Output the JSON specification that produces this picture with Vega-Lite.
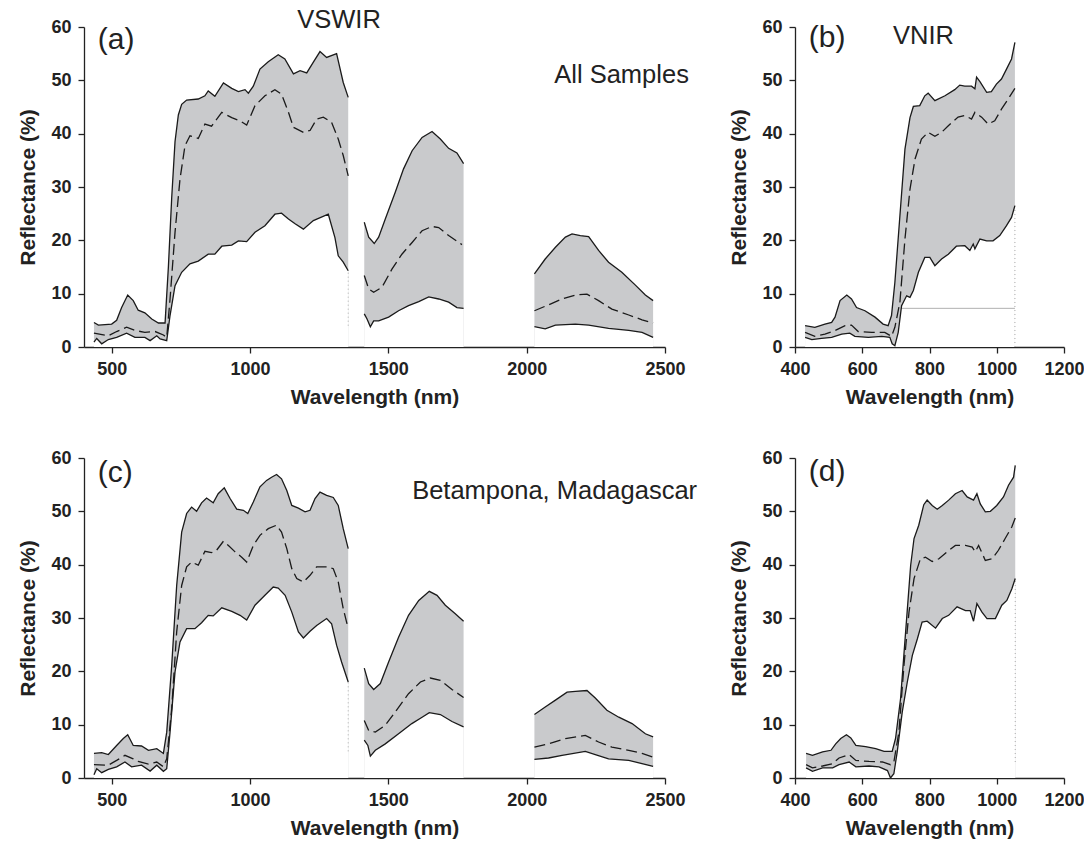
{
  "$schema": "https://vega.github.io/schema/vega-lite/v6.json",
  "padding": {"left": 17, "top": 8, "right": 5, "bottom": 5},
  "background": "white",
  "config": {
    "view": {"stroke": null},
    "font": "Liberation Sans",
    "axis": {
      "grid": false,
      "zindex": 1,
      "domainColor": "#222",
      "domainWidth": 1.3,
      "tickColor": "#222",
      "tickWidth": 1.3,
      "tickSize": 6,
      "labelFont": "Liberation Sans",
      "labelFontWeight": "bold",
      "labelFontSize": 18,
      "labelColor": "#222",
      "labelPadding": 7,
      "titleFont": "Liberation Sans",
      "titleFontWeight": "bold",
      "titleFontSize": 21,
      "titleColor": "#222",
      "format": "d"
    },
    "axisX": {"titlePadding": 8, "labelFlush": false},
    "axisY": {"titlePadding": 12}
  },
  "datasets": {
    "series": [
      {"p":"a","s":1,"c":"hi","x":436,"y":4.6},{"p":"a","s":1,"c":"hi","x":452,"y":4.1},{"p":"a","s":1,"c":"hi","x":500,"y":4.3},{"p":"a","s":1,"c":"hi","x":518,"y":5},{"p":"a","s":1,"c":"hi","x":536,"y":7.4},{"p":"a","s":1,"c":"hi","x":558,"y":9.75},{"p":"a","s":1,"c":"hi","x":578,"y":8.7},{"p":"a","s":1,"c":"hi","x":596,"y":6.9},{"p":"a","s":1,"c":"hi","x":620,"y":6.4},{"p":"a","s":1,"c":"hi","x":645,"y":5.25},{"p":"a","s":1,"c":"hi","x":669,"y":4.5},{"p":"a","s":1,"c":"hi","x":693,"y":4.5},{"p":"a","s":1,"c":"hi","x":705,"y":15},{"p":"a","s":1,"c":"hi","x":717,"y":28},{"p":"a","s":1,"c":"hi","x":729,"y":38.5},{"p":"a","s":1,"c":"hi","x":741,"y":43.5},{"p":"a","s":1,"c":"hi","x":753,"y":45.5},{"p":"a","s":1,"c":"hi","x":771,"y":46.3},{"p":"a","s":1,"c":"hi","x":813,"y":46.5},{"p":"a","s":1,"c":"hi","x":837,"y":47.1},{"p":"a","s":1,"c":"hi","x":849,"y":48},{"p":"a","s":1,"c":"hi","x":873,"y":47},{"p":"a","s":1,"c":"hi","x":904,"y":49.5},{"p":"a","s":1,"c":"hi","x":934,"y":48.5},{"p":"a","s":1,"c":"hi","x":958,"y":47.9},{"p":"a","s":1,"c":"hi","x":982,"y":48.25},{"p":"a","s":1,"c":"hi","x":994,"y":47.6},{"p":"a","s":1,"c":"hi","x":1012,"y":48.9},{"p":"a","s":1,"c":"hi","x":1036,"y":52.1},{"p":"a","s":1,"c":"hi","x":1066,"y":53.5},{"p":"a","s":1,"c":"hi","x":1102,"y":54.8},{"p":"a","s":1,"c":"hi","x":1126,"y":54},{"p":"a","s":1,"c":"hi","x":1157,"y":51.2},{"p":"a","s":1,"c":"hi","x":1181,"y":51.8},{"p":"a","s":1,"c":"hi","x":1205,"y":51.4},{"p":"a","s":1,"c":"hi","x":1229,"y":53.4},{"p":"a","s":1,"c":"hi","x":1253,"y":55.4},{"p":"a","s":1,"c":"hi","x":1277,"y":54.3},{"p":"a","s":1,"c":"hi","x":1313,"y":55},{"p":"a","s":1,"c":"hi","x":1337,"y":49.6},{"p":"a","s":1,"c":"hi","x":1355,"y":46.8},
      {"p":"a","s":1,"c":"mean","x":436,"y":2.6},{"p":"a","s":1,"c":"mean","x":488,"y":2.1},{"p":"a","s":1,"c":"mean","x":518,"y":2.9},{"p":"a","s":1,"c":"mean","x":554,"y":3.7},{"p":"a","s":1,"c":"mean","x":584,"y":3.1},{"p":"a","s":1,"c":"mean","x":620,"y":2.75},{"p":"a","s":1,"c":"mean","x":657,"y":2.9},{"p":"a","s":1,"c":"mean","x":687,"y":2.25},{"p":"a","s":1,"c":"mean","x":699,"y":1.8},{"p":"a","s":1,"c":"mean","x":711,"y":9},{"p":"a","s":1,"c":"mean","x":729,"y":21.5},{"p":"a","s":1,"c":"mean","x":747,"y":31.5},{"p":"a","s":1,"c":"mean","x":765,"y":37.75},{"p":"a","s":1,"c":"mean","x":783,"y":39.6},{"p":"a","s":1,"c":"mean","x":813,"y":39.1},{"p":"a","s":1,"c":"mean","x":837,"y":41.8},{"p":"a","s":1,"c":"mean","x":861,"y":41.4},{"p":"a","s":1,"c":"mean","x":898,"y":44},{"p":"a","s":1,"c":"mean","x":934,"y":43},{"p":"a","s":1,"c":"mean","x":964,"y":42.4},{"p":"a","s":1,"c":"mean","x":988,"y":41.6},{"p":"a","s":1,"c":"mean","x":1018,"y":45.25},{"p":"a","s":1,"c":"mean","x":1054,"y":47.1},{"p":"a","s":1,"c":"mean","x":1090,"y":48.25},{"p":"a","s":1,"c":"mean","x":1114,"y":47.4},{"p":"a","s":1,"c":"mean","x":1139,"y":44},{"p":"a","s":1,"c":"mean","x":1157,"y":41.2},{"p":"a","s":1,"c":"mean","x":1193,"y":40.25},{"p":"a","s":1,"c":"mean","x":1217,"y":40.6},{"p":"a","s":1,"c":"mean","x":1241,"y":42.75},{"p":"a","s":1,"c":"mean","x":1265,"y":43.1},{"p":"a","s":1,"c":"mean","x":1295,"y":42.1},{"p":"a","s":1,"c":"mean","x":1319,"y":39},{"p":"a","s":1,"c":"mean","x":1337,"y":35.9},{"p":"a","s":1,"c":"mean","x":1355,"y":32.1},
      {"p":"a","s":1,"c":"lo","x":436,"y":0.9},{"p":"a","s":1,"c":"lo","x":446,"y":1.6},{"p":"a","s":1,"c":"lo","x":464,"y":0.6},{"p":"a","s":1,"c":"lo","x":488,"y":1.4},{"p":"a","s":1,"c":"lo","x":518,"y":1.8},{"p":"a","s":1,"c":"lo","x":554,"y":2.6},{"p":"a","s":1,"c":"lo","x":584,"y":1.8},{"p":"a","s":1,"c":"lo","x":620,"y":1.8},{"p":"a","s":1,"c":"lo","x":639,"y":1.2},{"p":"a","s":1,"c":"lo","x":663,"y":2.1},{"p":"a","s":1,"c":"lo","x":675,"y":1.5},{"p":"a","s":1,"c":"lo","x":699,"y":1.2},{"p":"a","s":1,"c":"lo","x":711,"y":5.9},{"p":"a","s":1,"c":"lo","x":729,"y":11.5},{"p":"a","s":1,"c":"lo","x":753,"y":14},{"p":"a","s":1,"c":"lo","x":783,"y":15.6},{"p":"a","s":1,"c":"lo","x":813,"y":16.1},{"p":"a","s":1,"c":"lo","x":849,"y":17.4},{"p":"a","s":1,"c":"lo","x":873,"y":17.4},{"p":"a","s":1,"c":"lo","x":898,"y":18.9},{"p":"a","s":1,"c":"lo","x":934,"y":19.1},{"p":"a","s":1,"c":"lo","x":958,"y":19.9},{"p":"a","s":1,"c":"lo","x":988,"y":19.75},{"p":"a","s":1,"c":"lo","x":1018,"y":21.5},{"p":"a","s":1,"c":"lo","x":1054,"y":22.75},{"p":"a","s":1,"c":"lo","x":1090,"y":24.9},{"p":"a","s":1,"c":"lo","x":1114,"y":25.1},{"p":"a","s":1,"c":"lo","x":1139,"y":24},{"p":"a","s":1,"c":"lo","x":1163,"y":23.1},{"p":"a","s":1,"c":"lo","x":1193,"y":22.1},{"p":"a","s":1,"c":"lo","x":1229,"y":23.7},{"p":"a","s":1,"c":"lo","x":1283,"y":24.9},{"p":"a","s":1,"c":"lo","x":1307,"y":20.5},{"p":"a","s":1,"c":"lo","x":1319,"y":17.1},{"p":"a","s":1,"c":"lo","x":1337,"y":15.9},{"p":"a","s":1,"c":"lo","x":1355,"y":14.3},
      {"p":"a","s":2,"c":"hi","x":1413,"y":23.4},{"p":"a","s":2,"c":"hi","x":1429,"y":20.6},{"p":"a","s":2,"c":"hi","x":1449,"y":19.4},{"p":"a","s":2,"c":"hi","x":1465,"y":20.6},{"p":"a","s":2,"c":"hi","x":1489,"y":24},{"p":"a","s":2,"c":"hi","x":1525,"y":29},{"p":"a","s":2,"c":"hi","x":1555,"y":33.4},{"p":"a","s":2,"c":"hi","x":1586,"y":36.8},{"p":"a","s":2,"c":"hi","x":1622,"y":39.3},{"p":"a","s":2,"c":"hi","x":1658,"y":40.4},{"p":"a","s":2,"c":"hi","x":1688,"y":39},{"p":"a","s":2,"c":"hi","x":1718,"y":37.25},{"p":"a","s":2,"c":"hi","x":1748,"y":36.4},{"p":"a","s":2,"c":"hi","x":1772,"y":34.4},
      {"p":"a","s":2,"c":"mean","x":1413,"y":13.4},{"p":"a","s":2,"c":"mean","x":1429,"y":10.9},{"p":"a","s":2,"c":"mean","x":1447,"y":10.25},{"p":"a","s":2,"c":"mean","x":1477,"y":11.2},{"p":"a","s":2,"c":"mean","x":1513,"y":14.6},{"p":"a","s":2,"c":"mean","x":1549,"y":17.4},{"p":"a","s":2,"c":"mean","x":1586,"y":19.6},{"p":"a","s":2,"c":"mean","x":1622,"y":21.8},{"p":"a","s":2,"c":"mean","x":1658,"y":22.6},{"p":"a","s":2,"c":"mean","x":1682,"y":22.4},{"p":"a","s":2,"c":"mean","x":1718,"y":20.9},{"p":"a","s":2,"c":"mean","x":1766,"y":19.2},
      {"p":"a","s":2,"c":"lo","x":1413,"y":6.2},{"p":"a","s":2,"c":"lo","x":1423,"y":5.25},{"p":"a","s":2,"c":"lo","x":1435,"y":3.8},{"p":"a","s":2,"c":"lo","x":1447,"y":4.9},{"p":"a","s":2,"c":"lo","x":1465,"y":4.9},{"p":"a","s":2,"c":"lo","x":1501,"y":5.6},{"p":"a","s":2,"c":"lo","x":1537,"y":6.8},{"p":"a","s":2,"c":"lo","x":1573,"y":7.75},{"p":"a","s":2,"c":"lo","x":1610,"y":8.5},{"p":"a","s":2,"c":"lo","x":1646,"y":9.4},{"p":"a","s":2,"c":"lo","x":1682,"y":9},{"p":"a","s":2,"c":"lo","x":1718,"y":8.4},{"p":"a","s":2,"c":"lo","x":1748,"y":7.4},{"p":"a","s":2,"c":"lo","x":1772,"y":7.25},
      {"p":"a","s":3,"c":"hi","x":2028,"y":13.7},{"p":"a","s":3,"c":"hi","x":2067,"y":16.5},{"p":"a","s":3,"c":"hi","x":2104,"y":18.7},{"p":"a","s":3,"c":"hi","x":2140,"y":20.6},{"p":"a","s":3,"c":"hi","x":2164,"y":21.2},{"p":"a","s":3,"c":"hi","x":2194,"y":20.9},{"p":"a","s":3,"c":"hi","x":2224,"y":20.7},{"p":"a","s":3,"c":"hi","x":2260,"y":18.1},{"p":"a","s":3,"c":"hi","x":2296,"y":15.9},{"p":"a","s":3,"c":"hi","x":2344,"y":14},{"p":"a","s":3,"c":"hi","x":2393,"y":11.6},{"p":"a","s":3,"c":"hi","x":2429,"y":9.75},{"p":"a","s":3,"c":"hi","x":2457,"y":8.7},
      {"p":"a","s":3,"c":"mean","x":2028,"y":6.8},{"p":"a","s":3,"c":"mean","x":2079,"y":7.9},{"p":"a","s":3,"c":"mean","x":2128,"y":9},{"p":"a","s":3,"c":"mean","x":2176,"y":9.75},{"p":"a","s":3,"c":"mean","x":2218,"y":9.9},{"p":"a","s":3,"c":"mean","x":2260,"y":8.7},{"p":"a","s":3,"c":"mean","x":2308,"y":7.1},{"p":"a","s":3,"c":"mean","x":2369,"y":6},{"p":"a","s":3,"c":"mean","x":2417,"y":5.1},{"p":"a","s":3,"c":"mean","x":2457,"y":4.5},
      {"p":"a","s":3,"c":"lo","x":2028,"y":3.8},{"p":"a","s":3,"c":"lo","x":2067,"y":3.4},{"p":"a","s":3,"c":"lo","x":2104,"y":4.1},{"p":"a","s":3,"c":"lo","x":2176,"y":4.3},{"p":"a","s":3,"c":"lo","x":2224,"y":4.1},{"p":"a","s":3,"c":"lo","x":2296,"y":3.5},{"p":"a","s":3,"c":"lo","x":2369,"y":3.1},{"p":"a","s":3,"c":"lo","x":2417,"y":2.75},{"p":"a","s":3,"c":"lo","x":2457,"y":1.8},

      {"p":"b","s":1,"c":"hi","x":430,"y":4},{"p":"b","s":1,"c":"hi","x":459,"y":3.7},{"p":"b","s":1,"c":"hi","x":489,"y":4.3},{"p":"b","s":1,"c":"hi","x":509,"y":4.6},{"p":"b","s":1,"c":"hi","x":519,"y":5.6},{"p":"b","s":1,"c":"hi","x":534,"y":8.7},{"p":"b","s":1,"c":"hi","x":554,"y":9.75},{"p":"b","s":1,"c":"hi","x":568,"y":9},{"p":"b","s":1,"c":"hi","x":583,"y":7.4},{"p":"b","s":1,"c":"hi","x":608,"y":6.8},{"p":"b","s":1,"c":"hi","x":638,"y":5.6},{"p":"b","s":1,"c":"hi","x":662,"y":4.3},{"p":"b","s":1,"c":"hi","x":677,"y":4},{"p":"b","s":1,"c":"hi","x":687,"y":5.9},{"p":"b","s":1,"c":"hi","x":697,"y":12.1},{"p":"b","s":1,"c":"hi","x":712,"y":24.6},{"p":"b","s":1,"c":"hi","x":727,"y":37.1},{"p":"b","s":1,"c":"hi","x":742,"y":43},{"p":"b","s":1,"c":"hi","x":752,"y":45.1},{"p":"b","s":1,"c":"hi","x":771,"y":45.25},{"p":"b","s":1,"c":"hi","x":786,"y":47.1},{"p":"b","s":1,"c":"hi","x":796,"y":47.6},{"p":"b","s":1,"c":"hi","x":816,"y":46.2},{"p":"b","s":1,"c":"hi","x":846,"y":47.1},{"p":"b","s":1,"c":"hi","x":875,"y":48.25},{"p":"b","s":1,"c":"hi","x":890,"y":49.1},{"p":"b","s":1,"c":"hi","x":905,"y":48.9},{"p":"b","s":1,"c":"hi","x":925,"y":48.9},{"p":"b","s":1,"c":"hi","x":935,"y":48.4},{"p":"b","s":1,"c":"hi","x":940,"y":50.6},{"p":"b","s":1,"c":"hi","x":950,"y":49.75},{"p":"b","s":1,"c":"hi","x":970,"y":47.75},{"p":"b","s":1,"c":"hi","x":984,"y":47.9},{"p":"b","s":1,"c":"hi","x":999,"y":49.3},{"p":"b","s":1,"c":"hi","x":1014,"y":50.25},{"p":"b","s":1,"c":"hi","x":1029,"y":52.1},{"p":"b","s":1,"c":"hi","x":1044,"y":54},{"p":"b","s":1,"c":"hi","x":1054,"y":57.1},
      {"p":"b","s":1,"c":"mean","x":430,"y":2.75},{"p":"b","s":1,"c":"mean","x":459,"y":2},{"p":"b","s":1,"c":"mean","x":489,"y":2.4},{"p":"b","s":1,"c":"mean","x":519,"y":3.1},{"p":"b","s":1,"c":"mean","x":549,"y":4},{"p":"b","s":1,"c":"mean","x":568,"y":4.1},{"p":"b","s":1,"c":"mean","x":588,"y":2.9},{"p":"b","s":1,"c":"mean","x":628,"y":2.75},{"p":"b","s":1,"c":"mean","x":667,"y":2.75},{"p":"b","s":1,"c":"mean","x":687,"y":2},{"p":"b","s":1,"c":"mean","x":697,"y":3.7},{"p":"b","s":1,"c":"mean","x":712,"y":8.4},{"p":"b","s":1,"c":"mean","x":727,"y":20.25},{"p":"b","s":1,"c":"mean","x":742,"y":29.6},{"p":"b","s":1,"c":"mean","x":757,"y":35.25},{"p":"b","s":1,"c":"mean","x":776,"y":39},{"p":"b","s":1,"c":"mean","x":796,"y":40.25},{"p":"b","s":1,"c":"mean","x":816,"y":39.5},{"p":"b","s":1,"c":"mean","x":836,"y":40.25},{"p":"b","s":1,"c":"mean","x":856,"y":41.5},{"p":"b","s":1,"c":"mean","x":885,"y":43.1},{"p":"b","s":1,"c":"mean","x":905,"y":43.4},{"p":"b","s":1,"c":"mean","x":925,"y":42.75},{"p":"b","s":1,"c":"mean","x":935,"y":44},{"p":"b","s":1,"c":"mean","x":955,"y":43.1},{"p":"b","s":1,"c":"mean","x":974,"y":41.8},{"p":"b","s":1,"c":"mean","x":994,"y":42.4},{"p":"b","s":1,"c":"mean","x":1014,"y":44.6},{"p":"b","s":1,"c":"mean","x":1034,"y":46.5},{"p":"b","s":1,"c":"mean","x":1054,"y":48.5},
      {"p":"b","s":1,"c":"lo","x":430,"y":1.8},{"p":"b","s":1,"c":"lo","x":450,"y":1.4},{"p":"b","s":1,"c":"lo","x":479,"y":1.6},{"p":"b","s":1,"c":"lo","x":509,"y":1.8},{"p":"b","s":1,"c":"lo","x":539,"y":2.4},{"p":"b","s":1,"c":"lo","x":563,"y":2.6},{"p":"b","s":1,"c":"lo","x":578,"y":2},{"p":"b","s":1,"c":"lo","x":618,"y":1.8},{"p":"b","s":1,"c":"lo","x":658,"y":2},{"p":"b","s":1,"c":"lo","x":682,"y":1.8},{"p":"b","s":1,"c":"lo","x":689,"y":0.6},{"p":"b","s":1,"c":"lo","x":697,"y":0.25},{"p":"b","s":1,"c":"lo","x":707,"y":2.75},{"p":"b","s":1,"c":"lo","x":717,"y":7.75},{"p":"b","s":1,"c":"lo","x":732,"y":9.6},{"p":"b","s":1,"c":"lo","x":742,"y":9.3},{"p":"b","s":1,"c":"lo","x":752,"y":10.6},{"p":"b","s":1,"c":"lo","x":767,"y":14},{"p":"b","s":1,"c":"lo","x":786,"y":16.8},{"p":"b","s":1,"c":"lo","x":801,"y":16.8},{"p":"b","s":1,"c":"lo","x":816,"y":15.25},{"p":"b","s":1,"c":"lo","x":836,"y":16.5},{"p":"b","s":1,"c":"lo","x":856,"y":17.4},{"p":"b","s":1,"c":"lo","x":880,"y":18.9},{"p":"b","s":1,"c":"lo","x":905,"y":19},{"p":"b","s":1,"c":"lo","x":920,"y":18.1},{"p":"b","s":1,"c":"lo","x":930,"y":19.3},{"p":"b","s":1,"c":"lo","x":935,"y":18.4},{"p":"b","s":1,"c":"lo","x":950,"y":20.25},{"p":"b","s":1,"c":"lo","x":970,"y":19.9},{"p":"b","s":1,"c":"lo","x":989,"y":19.9},{"p":"b","s":1,"c":"lo","x":1009,"y":20.9},{"p":"b","s":1,"c":"lo","x":1029,"y":22.75},{"p":"b","s":1,"c":"lo","x":1044,"y":24.3},{"p":"b","s":1,"c":"lo","x":1054,"y":26.5},

      {"p":"c","s":1,"c":"hi","x":436,"y":4.6},{"p":"c","s":1,"c":"hi","x":464,"y":4.75},{"p":"c","s":1,"c":"hi","x":488,"y":4.4},{"p":"c","s":1,"c":"hi","x":518,"y":6.1},{"p":"c","s":1,"c":"hi","x":542,"y":7.4},{"p":"c","s":1,"c":"hi","x":558,"y":8.1},{"p":"c","s":1,"c":"hi","x":578,"y":6.1},{"p":"c","s":1,"c":"hi","x":608,"y":6},{"p":"c","s":1,"c":"hi","x":633,"y":5.2},{"p":"c","s":1,"c":"hi","x":663,"y":5.5},{"p":"c","s":1,"c":"hi","x":687,"y":4.6},{"p":"c","s":1,"c":"hi","x":699,"y":8.6},{"p":"c","s":1,"c":"hi","x":717,"y":21.1},{"p":"c","s":1,"c":"hi","x":735,"y":36.1},{"p":"c","s":1,"c":"hi","x":753,"y":46.1},{"p":"c","s":1,"c":"hi","x":771,"y":49.6},{"p":"c","s":1,"c":"hi","x":789,"y":50.8},{"p":"c","s":1,"c":"hi","x":807,"y":50},{"p":"c","s":1,"c":"hi","x":825,"y":51.6},{"p":"c","s":1,"c":"hi","x":843,"y":52.5},{"p":"c","s":1,"c":"hi","x":867,"y":51.6},{"p":"c","s":1,"c":"hi","x":885,"y":53.3},{"p":"c","s":1,"c":"hi","x":907,"y":54.4},{"p":"c","s":1,"c":"hi","x":928,"y":52.4},{"p":"c","s":1,"c":"hi","x":952,"y":50.4},{"p":"c","s":1,"c":"hi","x":976,"y":50.2},{"p":"c","s":1,"c":"hi","x":992,"y":49.6},{"p":"c","s":1,"c":"hi","x":1012,"y":51.75},{"p":"c","s":1,"c":"hi","x":1036,"y":54.6},{"p":"c","s":1,"c":"hi","x":1060,"y":55.8},{"p":"c","s":1,"c":"hi","x":1078,"y":56.4},{"p":"c","s":1,"c":"hi","x":1096,"y":56.9},{"p":"c","s":1,"c":"hi","x":1114,"y":56.1},{"p":"c","s":1,"c":"hi","x":1133,"y":53.9},{"p":"c","s":1,"c":"hi","x":1151,"y":51.1},{"p":"c","s":1,"c":"hi","x":1175,"y":50.6},{"p":"c","s":1,"c":"hi","x":1199,"y":49.9},{"p":"c","s":1,"c":"hi","x":1217,"y":50.2},{"p":"c","s":1,"c":"hi","x":1235,"y":52.4},{"p":"c","s":1,"c":"hi","x":1253,"y":53.6},{"p":"c","s":1,"c":"hi","x":1277,"y":53},{"p":"c","s":1,"c":"hi","x":1301,"y":52.6},{"p":"c","s":1,"c":"hi","x":1319,"y":51.1},{"p":"c","s":1,"c":"hi","x":1337,"y":46.75},{"p":"c","s":1,"c":"hi","x":1355,"y":43},
      {"p":"c","s":1,"c":"mean","x":436,"y":2.5},{"p":"c","s":1,"c":"mean","x":488,"y":2.4},{"p":"c","s":1,"c":"mean","x":518,"y":3.3},{"p":"c","s":1,"c":"mean","x":548,"y":4.25},{"p":"c","s":1,"c":"mean","x":578,"y":3.6},{"p":"c","s":1,"c":"mean","x":596,"y":3.1},{"p":"c","s":1,"c":"mean","x":633,"y":2.6},{"p":"c","s":1,"c":"mean","x":663,"y":3},{"p":"c","s":1,"c":"mean","x":687,"y":2.1},{"p":"c","s":1,"c":"mean","x":699,"y":3.6},{"p":"c","s":1,"c":"mean","x":717,"y":13},{"p":"c","s":1,"c":"mean","x":735,"y":27.4},{"p":"c","s":1,"c":"mean","x":753,"y":36.1},{"p":"c","s":1,"c":"mean","x":771,"y":39.6},{"p":"c","s":1,"c":"mean","x":789,"y":40.5},{"p":"c","s":1,"c":"mean","x":813,"y":39.9},{"p":"c","s":1,"c":"mean","x":837,"y":42.5},{"p":"c","s":1,"c":"mean","x":861,"y":42.25},{"p":"c","s":1,"c":"mean","x":879,"y":42.7},{"p":"c","s":1,"c":"mean","x":904,"y":44.4},{"p":"c","s":1,"c":"mean","x":922,"y":43.6},{"p":"c","s":1,"c":"mean","x":946,"y":42.4},{"p":"c","s":1,"c":"mean","x":970,"y":41.4},{"p":"c","s":1,"c":"mean","x":988,"y":40.5},{"p":"c","s":1,"c":"mean","x":1012,"y":43.6},{"p":"c","s":1,"c":"mean","x":1036,"y":45.5},{"p":"c","s":1,"c":"mean","x":1066,"y":46.75},{"p":"c","s":1,"c":"mean","x":1096,"y":47.4},{"p":"c","s":1,"c":"mean","x":1114,"y":46.1},{"p":"c","s":1,"c":"mean","x":1133,"y":43},{"p":"c","s":1,"c":"mean","x":1151,"y":39.25},{"p":"c","s":1,"c":"mean","x":1169,"y":37.4},{"p":"c","s":1,"c":"mean","x":1193,"y":36.75},{"p":"c","s":1,"c":"mean","x":1217,"y":38},{"p":"c","s":1,"c":"mean","x":1241,"y":39.6},{"p":"c","s":1,"c":"mean","x":1277,"y":39.6},{"p":"c","s":1,"c":"mean","x":1301,"y":39.25},{"p":"c","s":1,"c":"mean","x":1319,"y":36.75},{"p":"c","s":1,"c":"mean","x":1337,"y":31.75},{"p":"c","s":1,"c":"mean","x":1355,"y":28},
      {"p":"c","s":1,"c":"lo","x":436,"y":0.6},{"p":"c","s":1,"c":"lo","x":446,"y":1.75},{"p":"c","s":1,"c":"lo","x":464,"y":1},{"p":"c","s":1,"c":"lo","x":488,"y":1.6},{"p":"c","s":1,"c":"lo","x":518,"y":2.1},{"p":"c","s":1,"c":"lo","x":548,"y":3},{"p":"c","s":1,"c":"lo","x":572,"y":2.1},{"p":"c","s":1,"c":"lo","x":608,"y":2.4},{"p":"c","s":1,"c":"lo","x":639,"y":1.3},{"p":"c","s":1,"c":"lo","x":663,"y":2.4},{"p":"c","s":1,"c":"lo","x":687,"y":1.25},{"p":"c","s":1,"c":"lo","x":699,"y":1.75},{"p":"c","s":1,"c":"lo","x":711,"y":8.6},{"p":"c","s":1,"c":"lo","x":729,"y":19.9},{"p":"c","s":1,"c":"lo","x":747,"y":25.5},{"p":"c","s":1,"c":"lo","x":771,"y":28},{"p":"c","s":1,"c":"lo","x":801,"y":28},{"p":"c","s":1,"c":"lo","x":825,"y":29.1},{"p":"c","s":1,"c":"lo","x":849,"y":30.5},{"p":"c","s":1,"c":"lo","x":867,"y":30.4},{"p":"c","s":1,"c":"lo","x":898,"y":31.9},{"p":"c","s":1,"c":"lo","x":934,"y":31.25},{"p":"c","s":1,"c":"lo","x":964,"y":30.5},{"p":"c","s":1,"c":"lo","x":988,"y":29.6},{"p":"c","s":1,"c":"lo","x":1018,"y":32.4},{"p":"c","s":1,"c":"lo","x":1054,"y":34.25},{"p":"c","s":1,"c":"lo","x":1084,"y":35.8},{"p":"c","s":1,"c":"lo","x":1102,"y":35.6},{"p":"c","s":1,"c":"lo","x":1127,"y":34.25},{"p":"c","s":1,"c":"lo","x":1151,"y":31.1},{"p":"c","s":1,"c":"lo","x":1175,"y":27.4},{"p":"c","s":1,"c":"lo","x":1193,"y":26.25},{"p":"c","s":1,"c":"lo","x":1217,"y":27.5},{"p":"c","s":1,"c":"lo","x":1241,"y":28.6},{"p":"c","s":1,"c":"lo","x":1277,"y":29.9},{"p":"c","s":1,"c":"lo","x":1295,"y":28.9},{"p":"c","s":1,"c":"lo","x":1313,"y":24.9},{"p":"c","s":1,"c":"lo","x":1331,"y":21.75},{"p":"c","s":1,"c":"lo","x":1355,"y":18},
      {"p":"c","s":2,"c":"hi","x":1413,"y":20.6},{"p":"c","s":2,"c":"hi","x":1429,"y":17.7},{"p":"c","s":2,"c":"hi","x":1447,"y":16.6},{"p":"c","s":2,"c":"hi","x":1471,"y":17.7},{"p":"c","s":2,"c":"hi","x":1501,"y":21.75},{"p":"c","s":2,"c":"hi","x":1537,"y":26.4},{"p":"c","s":2,"c":"hi","x":1573,"y":30.5},{"p":"c","s":2,"c":"hi","x":1610,"y":33.3},{"p":"c","s":2,"c":"hi","x":1648,"y":35},{"p":"c","s":2,"c":"hi","x":1676,"y":34.25},{"p":"c","s":2,"c":"hi","x":1706,"y":32.4},{"p":"c","s":2,"c":"hi","x":1742,"y":30.8},{"p":"c","s":2,"c":"hi","x":1772,"y":29.4},
      {"p":"c","s":2,"c":"mean","x":1413,"y":10.8},{"p":"c","s":2,"c":"mean","x":1429,"y":8.9},{"p":"c","s":2,"c":"mean","x":1453,"y":8.6},{"p":"c","s":2,"c":"mean","x":1489,"y":9.9},{"p":"c","s":2,"c":"mean","x":1525,"y":12.4},{"p":"c","s":2,"c":"mean","x":1573,"y":15.8},{"p":"c","s":2,"c":"mean","x":1616,"y":18},{"p":"c","s":2,"c":"mean","x":1652,"y":18.75},{"p":"c","s":2,"c":"mean","x":1688,"y":18.3},{"p":"c","s":2,"c":"mean","x":1730,"y":16.6},{"p":"c","s":2,"c":"mean","x":1772,"y":15.1},
      {"p":"c","s":2,"c":"lo","x":1413,"y":7.1},{"p":"c","s":2,"c":"lo","x":1426,"y":6.1},{"p":"c","s":2,"c":"lo","x":1435,"y":4.1},{"p":"c","s":2,"c":"lo","x":1453,"y":5.2},{"p":"c","s":2,"c":"lo","x":1489,"y":6.4},{"p":"c","s":2,"c":"lo","x":1537,"y":8.3},{"p":"c","s":2,"c":"lo","x":1585,"y":10.2},{"p":"c","s":2,"c":"lo","x":1622,"y":11.4},{"p":"c","s":2,"c":"lo","x":1648,"y":12.25},{"p":"c","s":2,"c":"lo","x":1688,"y":11.9},{"p":"c","s":2,"c":"lo","x":1730,"y":10.6},{"p":"c","s":2,"c":"lo","x":1772,"y":9.6},
      {"p":"c","s":3,"c":"hi","x":2028,"y":11.9},{"p":"c","s":3,"c":"hi","x":2067,"y":13.3},{"p":"c","s":3,"c":"hi","x":2104,"y":14.6},{"p":"c","s":3,"c":"hi","x":2146,"y":16.1},{"p":"c","s":3,"c":"hi","x":2176,"y":16.25},{"p":"c","s":3,"c":"hi","x":2218,"y":16.4},{"p":"c","s":3,"c":"hi","x":2248,"y":15},{"p":"c","s":3,"c":"hi","x":2290,"y":12.7},{"p":"c","s":3,"c":"hi","x":2333,"y":11.4},{"p":"c","s":3,"c":"hi","x":2381,"y":10.2},{"p":"c","s":3,"c":"hi","x":2429,"y":8.3},{"p":"c","s":3,"c":"hi","x":2457,"y":7.7},
      {"p":"c","s":3,"c":"mean","x":2028,"y":5.8},{"p":"c","s":3,"c":"mean","x":2079,"y":6.4},{"p":"c","s":3,"c":"mean","x":2140,"y":7.4},{"p":"c","s":3,"c":"mean","x":2212,"y":8},{"p":"c","s":3,"c":"mean","x":2260,"y":6.75},{"p":"c","s":3,"c":"mean","x":2308,"y":5.8},{"p":"c","s":3,"c":"mean","x":2369,"y":5.2},{"p":"c","s":3,"c":"mean","x":2417,"y":4.6},{"p":"c","s":3,"c":"mean","x":2457,"y":3.9},
      {"p":"c","s":3,"c":"lo","x":2028,"y":3.5},{"p":"c","s":3,"c":"lo","x":2079,"y":3.75},{"p":"c","s":3,"c":"lo","x":2128,"y":4.25},{"p":"c","s":3,"c":"lo","x":2212,"y":5},{"p":"c","s":3,"c":"lo","x":2248,"y":4.4},{"p":"c","s":3,"c":"lo","x":2296,"y":3.6},{"p":"c","s":3,"c":"lo","x":2369,"y":3.3},{"p":"c","s":3,"c":"lo","x":2417,"y":2.7},{"p":"c","s":3,"c":"lo","x":2457,"y":2.2},

      {"p":"d","s":1,"c":"hi","x":433,"y":4.6},{"p":"d","s":1,"c":"hi","x":452,"y":4.25},{"p":"d","s":1,"c":"hi","x":482,"y":4.9},{"p":"d","s":1,"c":"hi","x":507,"y":5.2},{"p":"d","s":1,"c":"hi","x":521,"y":6.4},{"p":"d","s":1,"c":"hi","x":536,"y":7.4},{"p":"d","s":1,"c":"hi","x":553,"y":8.1},{"p":"d","s":1,"c":"hi","x":566,"y":7.5},{"p":"d","s":1,"c":"hi","x":581,"y":6.1},{"p":"d","s":1,"c":"hi","x":610,"y":5.9},{"p":"d","s":1,"c":"hi","x":640,"y":5.5},{"p":"d","s":1,"c":"hi","x":665,"y":5},{"p":"d","s":1,"c":"hi","x":689,"y":5},{"p":"d","s":1,"c":"hi","x":699,"y":7.4},{"p":"d","s":1,"c":"hi","x":714,"y":14.9},{"p":"d","s":1,"c":"hi","x":729,"y":27.4},{"p":"d","s":1,"c":"hi","x":744,"y":39.9},{"p":"d","s":1,"c":"hi","x":754,"y":44.9},{"p":"d","s":1,"c":"hi","x":768,"y":47.4},{"p":"d","s":1,"c":"hi","x":783,"y":51.25},{"p":"d","s":1,"c":"hi","x":793,"y":52.1},{"p":"d","s":1,"c":"hi","x":808,"y":51.1},{"p":"d","s":1,"c":"hi","x":823,"y":50.4},{"p":"d","s":1,"c":"hi","x":838,"y":51.1},{"p":"d","s":1,"c":"hi","x":857,"y":52.1},{"p":"d","s":1,"c":"hi","x":877,"y":53.3},{"p":"d","s":1,"c":"hi","x":897,"y":53.9},{"p":"d","s":1,"c":"hi","x":912,"y":52.7},{"p":"d","s":1,"c":"hi","x":931,"y":52.1},{"p":"d","s":1,"c":"hi","x":941,"y":53.3},{"p":"d","s":1,"c":"hi","x":951,"y":51.4},{"p":"d","s":1,"c":"hi","x":966,"y":49.9},{"p":"d","s":1,"c":"hi","x":981,"y":50},{"p":"d","s":1,"c":"hi","x":1000,"y":51.1},{"p":"d","s":1,"c":"hi","x":1020,"y":52.7},{"p":"d","s":1,"c":"hi","x":1035,"y":54.9},{"p":"d","s":1,"c":"hi","x":1050,"y":56.4},{"p":"d","s":1,"c":"hi","x":1055,"y":58.6},
      {"p":"d","s":1,"c":"mean","x":433,"y":2.5},{"p":"d","s":1,"c":"mean","x":452,"y":1.9},{"p":"d","s":1,"c":"mean","x":482,"y":2.25},{"p":"d","s":1,"c":"mean","x":512,"y":2.7},{"p":"d","s":1,"c":"mean","x":531,"y":3.75},{"p":"d","s":1,"c":"mean","x":561,"y":4.4},{"p":"d","s":1,"c":"mean","x":581,"y":3.3},{"p":"d","s":1,"c":"mean","x":620,"y":3.1},{"p":"d","s":1,"c":"mean","x":660,"y":3},{"p":"d","s":1,"c":"mean","x":684,"y":2.5},{"p":"d","s":1,"c":"mean","x":694,"y":3},{"p":"d","s":1,"c":"mean","x":709,"y":8.6},{"p":"d","s":1,"c":"mean","x":724,"y":21.1},{"p":"d","s":1,"c":"mean","x":739,"y":31.1},{"p":"d","s":1,"c":"mean","x":754,"y":37.4},{"p":"d","s":1,"c":"mean","x":773,"y":41.1},{"p":"d","s":1,"c":"mean","x":788,"y":41.4},{"p":"d","s":1,"c":"mean","x":808,"y":40.6},{"p":"d","s":1,"c":"mean","x":828,"y":41.1},{"p":"d","s":1,"c":"mean","x":852,"y":42.4},{"p":"d","s":1,"c":"mean","x":877,"y":43.6},{"p":"d","s":1,"c":"mean","x":907,"y":43.6},{"p":"d","s":1,"c":"mean","x":927,"y":43.3},{"p":"d","s":1,"c":"mean","x":936,"y":42.4},{"p":"d","s":1,"c":"mean","x":946,"y":43.6},{"p":"d","s":1,"c":"mean","x":966,"y":40.8},{"p":"d","s":1,"c":"mean","x":986,"y":41.1},{"p":"d","s":1,"c":"mean","x":1005,"y":42.7},{"p":"d","s":1,"c":"mean","x":1025,"y":44.9},{"p":"d","s":1,"c":"mean","x":1045,"y":47.1},{"p":"d","s":1,"c":"mean","x":1055,"y":48.75},
      {"p":"d","s":1,"c":"lo","x":433,"y":1.9},{"p":"d","s":1,"c":"lo","x":452,"y":1.25},{"p":"d","s":1,"c":"lo","x":482,"y":1.9},{"p":"d","s":1,"c":"lo","x":512,"y":1.9},{"p":"d","s":1,"c":"lo","x":531,"y":2.5},{"p":"d","s":1,"c":"lo","x":561,"y":3},{"p":"d","s":1,"c":"lo","x":581,"y":2.1},{"p":"d","s":1,"c":"lo","x":620,"y":2.25},{"p":"d","s":1,"c":"lo","x":650,"y":2.1},{"p":"d","s":1,"c":"lo","x":675,"y":1.4},{"p":"d","s":1,"c":"lo","x":684,"y":0},{"p":"d","s":1,"c":"lo","x":694,"y":0.8},{"p":"d","s":1,"c":"lo","x":704,"y":4.9},{"p":"d","s":1,"c":"lo","x":719,"y":12.4},{"p":"d","s":1,"c":"lo","x":734,"y":18},{"p":"d","s":1,"c":"lo","x":749,"y":23},{"p":"d","s":1,"c":"lo","x":764,"y":26.1},{"p":"d","s":1,"c":"lo","x":778,"y":29.25},{"p":"d","s":1,"c":"lo","x":793,"y":29.4},{"p":"d","s":1,"c":"lo","x":818,"y":28.1},{"p":"d","s":1,"c":"lo","x":838,"y":29.9},{"p":"d","s":1,"c":"lo","x":857,"y":30.5},{"p":"d","s":1,"c":"lo","x":882,"y":32.1},{"p":"d","s":1,"c":"lo","x":907,"y":31.4},{"p":"d","s":1,"c":"lo","x":921,"y":31.4},{"p":"d","s":1,"c":"lo","x":931,"y":29.4},{"p":"d","s":1,"c":"lo","x":941,"y":32.7},{"p":"d","s":1,"c":"lo","x":956,"y":31.1},{"p":"d","s":1,"c":"lo","x":971,"y":29.9},{"p":"d","s":1,"c":"lo","x":996,"y":29.9},{"p":"d","s":1,"c":"lo","x":1015,"y":32.4},{"p":"d","s":1,"c":"lo","x":1030,"y":33.3},{"p":"d","s":1,"c":"lo","x":1045,"y":35.5},{"p":"d","s":1,"c":"lo","x":1055,"y":37.4}
    ],
    "tags": [
      {"p":"a","x":450,"y":57.6,"t":"(a)"},
      {"p":"b","x":441,"y":58,"t":"(b)"},
      {"p":"c","x":450,"y":57.2,"t":"(c)"},
      {"p":"d","x":441,"y":57.4,"t":"(d)"}
    ],
    "notes": [
      {"p":"a","x":1322,"y":61.3,"t":"VSWIR"},
      {"p":"a","x":2343,"y":51,"t":"All Samples"},
      {"p":"b","x":782,"y":58.4,"t":"VNIR"},
      {"p":"c","x":2101,"y":53.9,"t":"Betampona, Madagascar"}
    ],
    "ends": [
      {"p":"a","x":1355,"y1":4,"y2":14},
      {"p":"b","x":1054,"y1":0,"y2":26},
      {"p":"c","x":1355,"y1":5,"y2":18},
      {"p":"d","x":1055,"y1":3,"y2":37}
    ],
    "hline": [
      {"p":"b","x1":715,"x2":1054,"y":7.25}
    ]
  },
  "columns": 2,
  "spacing": {"row": 111, "column": 130},
  "bounds": "flush",
  "align": "each",
  "concat": [
    {
      "width": 581, "height": 320,
      "layer": [
        {"data": {"name": "series"}, "transform": [{"filter": "datum.p === 'a' && datum.c === 'hi'"}], "mark": {"type": "area", "color": "#c9cacc", "clip": true}, "encoding": {"x": {"field": "x", "type": "quantitative", "scale": {"domain": [400, 2500], "nice": false}, "axis": {"values": [500, 1000, 1500, 2000, 2500], "title": "Wavelength (nm)"}}, "y": {"field": "y", "type": "quantitative", "stack": null, "scale": {"domain": [0, 60], "nice": false}, "axis": {"values": [0, 10, 20, 30, 40, 50, 60], "title": "Reflectance (%)"}}, "detail": {"field": "s"}}},
        {"data": {"name": "series"}, "transform": [{"filter": "datum.p === 'a' && datum.c === 'lo'"}], "mark": {"type": "area", "color": "white", "clip": true}, "encoding": {"x": {"field": "x", "type": "quantitative"}, "y": {"field": "y", "type": "quantitative", "stack": null}, "detail": {"field": "s"}}},
        {"data": {"name": "ends"}, "transform": [{"filter": "datum.p === 'a'"}], "mark": {"type": "rule", "color": "#aaaaaa", "strokeDash": [1, 3], "strokeWidth": 1}, "encoding": {"x": {"field": "x", "type": "quantitative"}, "y": {"field": "y1", "type": "quantitative"}, "y2": {"field": "y2"}}},
        {"data": {"name": "series"}, "transform": [{"filter": "datum.p === 'a' && datum.c !== 'mean'"}], "mark": {"type": "line", "color": "#1a1a1a", "strokeWidth": 1.3, "clip": true}, "encoding": {"x": {"field": "x", "type": "quantitative"}, "y": {"field": "y", "type": "quantitative", "stack": null}, "detail": [{"field": "s"}, {"field": "c"}]}},
        {"data": {"name": "series"}, "transform": [{"filter": "datum.p === 'a' && datum.c === 'mean'"}], "mark": {"type": "line", "color": "#1a1a1a", "strokeWidth": 1.3, "strokeDash": [11, 5], "clip": true}, "encoding": {"x": {"field": "x", "type": "quantitative"}, "y": {"field": "y", "type": "quantitative", "stack": null}, "detail": {"field": "s"}}},
        {"data": {"name": "tags"}, "transform": [{"filter": "datum.p === 'a'"}], "mark": {"type": "text", "align": "left", "baseline": "middle", "fontSize": 30, "font": "Liberation Sans", "color": "#222"}, "encoding": {"x": {"field": "x", "type": "quantitative"}, "y": {"field": "y", "type": "quantitative"}, "text": {"field": "t"}}},
        {"data": {"name": "notes"}, "transform": [{"filter": "datum.p === 'a'"}], "mark": {"type": "text", "align": "center", "baseline": "middle", "fontSize": 25.5, "font": "Liberation Sans", "color": "#222"}, "encoding": {"x": {"field": "x", "type": "quantitative"}, "y": {"field": "y", "type": "quantitative"}, "text": {"field": "t"}}}
      ]
    },
    {
      "width": 269, "height": 320,
      "layer": [
        {"data": {"name": "series"}, "transform": [{"filter": "datum.p === 'b' && datum.c === 'hi'"}], "mark": {"type": "area", "color": "#c9cacc", "clip": true}, "encoding": {"x": {"field": "x", "type": "quantitative", "scale": {"domain": [400, 1200], "nice": false}, "axis": {"values": [400, 600, 800, 1000, 1200], "title": "Wavelength (nm)"}}, "y": {"field": "y", "type": "quantitative", "stack": null, "scale": {"domain": [0, 60], "nice": false}, "axis": {"values": [0, 10, 20, 30, 40, 50, 60], "title": "Reflectance (%)"}}, "detail": {"field": "s"}}},
        {"data": {"name": "series"}, "transform": [{"filter": "datum.p === 'b' && datum.c === 'lo'"}], "mark": {"type": "area", "color": "white", "clip": true}, "encoding": {"x": {"field": "x", "type": "quantitative"}, "y": {"field": "y", "type": "quantitative", "stack": null}, "detail": {"field": "s"}}},
        {"data": {"name": "ends"}, "transform": [{"filter": "datum.p === 'b'"}], "mark": {"type": "rule", "color": "#aaaaaa", "strokeDash": [1, 3], "strokeWidth": 1}, "encoding": {"x": {"field": "x", "type": "quantitative"}, "y": {"field": "y1", "type": "quantitative"}, "y2": {"field": "y2"}}},
        {"data": {"name": "hline"}, "mark": {"type": "rule", "color": "#b0b0b0", "strokeWidth": 1}, "encoding": {"x": {"field": "x1", "type": "quantitative"}, "x2": {"field": "x2"}, "y": {"field": "y", "type": "quantitative"}}},
        {"data": {"name": "series"}, "transform": [{"filter": "datum.p === 'b' && datum.c !== 'mean'"}], "mark": {"type": "line", "color": "#1a1a1a", "strokeWidth": 1.3, "clip": true}, "encoding": {"x": {"field": "x", "type": "quantitative"}, "y": {"field": "y", "type": "quantitative", "stack": null}, "detail": [{"field": "s"}, {"field": "c"}]}},
        {"data": {"name": "series"}, "transform": [{"filter": "datum.p === 'b' && datum.c === 'mean'"}], "mark": {"type": "line", "color": "#1a1a1a", "strokeWidth": 1.3, "strokeDash": [11, 5], "clip": true}, "encoding": {"x": {"field": "x", "type": "quantitative"}, "y": {"field": "y", "type": "quantitative", "stack": null}, "detail": {"field": "s"}}},
        {"data": {"name": "tags"}, "transform": [{"filter": "datum.p === 'b'"}], "mark": {"type": "text", "align": "left", "baseline": "middle", "fontSize": 30, "font": "Liberation Sans", "color": "#222"}, "encoding": {"x": {"field": "x", "type": "quantitative"}, "y": {"field": "y", "type": "quantitative"}, "text": {"field": "t"}}},
        {"data": {"name": "notes"}, "transform": [{"filter": "datum.p === 'b'"}], "mark": {"type": "text", "align": "center", "baseline": "middle", "fontSize": 25.5, "font": "Liberation Sans", "color": "#222"}, "encoding": {"x": {"field": "x", "type": "quantitative"}, "y": {"field": "y", "type": "quantitative"}, "text": {"field": "t"}}}
      ]
    },
    {
      "width": 581, "height": 320,
      "layer": [
        {"data": {"name": "series"}, "transform": [{"filter": "datum.p === 'c' && datum.c === 'hi'"}], "mark": {"type": "area", "color": "#c9cacc", "clip": true}, "encoding": {"x": {"field": "x", "type": "quantitative", "scale": {"domain": [400, 2500], "nice": false}, "axis": {"values": [500, 1000, 1500, 2000, 2500], "title": "Wavelength (nm)"}}, "y": {"field": "y", "type": "quantitative", "stack": null, "scale": {"domain": [0, 60], "nice": false}, "axis": {"values": [0, 10, 20, 30, 40, 50, 60], "title": "Reflectance (%)"}}, "detail": {"field": "s"}}},
        {"data": {"name": "series"}, "transform": [{"filter": "datum.p === 'c' && datum.c === 'lo'"}], "mark": {"type": "area", "color": "white", "clip": true}, "encoding": {"x": {"field": "x", "type": "quantitative"}, "y": {"field": "y", "type": "quantitative", "stack": null}, "detail": {"field": "s"}}},
        {"data": {"name": "ends"}, "transform": [{"filter": "datum.p === 'c'"}], "mark": {"type": "rule", "color": "#aaaaaa", "strokeDash": [1, 3], "strokeWidth": 1}, "encoding": {"x": {"field": "x", "type": "quantitative"}, "y": {"field": "y1", "type": "quantitative"}, "y2": {"field": "y2"}}},
        {"data": {"name": "series"}, "transform": [{"filter": "datum.p === 'c' && datum.c !== 'mean'"}], "mark": {"type": "line", "color": "#1a1a1a", "strokeWidth": 1.3, "clip": true}, "encoding": {"x": {"field": "x", "type": "quantitative"}, "y": {"field": "y", "type": "quantitative", "stack": null}, "detail": [{"field": "s"}, {"field": "c"}]}},
        {"data": {"name": "series"}, "transform": [{"filter": "datum.p === 'c' && datum.c === 'mean'"}], "mark": {"type": "line", "color": "#1a1a1a", "strokeWidth": 1.3, "strokeDash": [11, 5], "clip": true}, "encoding": {"x": {"field": "x", "type": "quantitative"}, "y": {"field": "y", "type": "quantitative", "stack": null}, "detail": {"field": "s"}}},
        {"data": {"name": "tags"}, "transform": [{"filter": "datum.p === 'c'"}], "mark": {"type": "text", "align": "left", "baseline": "middle", "fontSize": 30, "font": "Liberation Sans", "color": "#222"}, "encoding": {"x": {"field": "x", "type": "quantitative"}, "y": {"field": "y", "type": "quantitative"}, "text": {"field": "t"}}},
        {"data": {"name": "notes"}, "transform": [{"filter": "datum.p === 'c'"}], "mark": {"type": "text", "align": "center", "baseline": "middle", "fontSize": 25.5, "font": "Liberation Sans", "color": "#222"}, "encoding": {"x": {"field": "x", "type": "quantitative"}, "y": {"field": "y", "type": "quantitative"}, "text": {"field": "t"}}}
      ]
    },
    {
      "width": 269, "height": 320,
      "layer": [
        {"data": {"name": "series"}, "transform": [{"filter": "datum.p === 'd' && datum.c === 'hi'"}], "mark": {"type": "area", "color": "#c9cacc", "clip": true}, "encoding": {"x": {"field": "x", "type": "quantitative", "scale": {"domain": [400, 1200], "nice": false}, "axis": {"values": [400, 600, 800, 1000, 1200], "title": "Wavelength (nm)"}}, "y": {"field": "y", "type": "quantitative", "stack": null, "scale": {"domain": [0, 60], "nice": false}, "axis": {"values": [0, 10, 20, 30, 40, 50, 60], "title": "Reflectance (%)"}}, "detail": {"field": "s"}}},
        {"data": {"name": "series"}, "transform": [{"filter": "datum.p === 'd' && datum.c === 'lo'"}], "mark": {"type": "area", "color": "white", "clip": true}, "encoding": {"x": {"field": "x", "type": "quantitative"}, "y": {"field": "y", "type": "quantitative", "stack": null}, "detail": {"field": "s"}}},
        {"data": {"name": "ends"}, "transform": [{"filter": "datum.p === 'd'"}], "mark": {"type": "rule", "color": "#aaaaaa", "strokeDash": [1, 3], "strokeWidth": 1}, "encoding": {"x": {"field": "x", "type": "quantitative"}, "y": {"field": "y1", "type": "quantitative"}, "y2": {"field": "y2"}}},
        {"data": {"name": "series"}, "transform": [{"filter": "datum.p === 'd' && datum.c !== 'mean'"}], "mark": {"type": "line", "color": "#1a1a1a", "strokeWidth": 1.3, "clip": true}, "encoding": {"x": {"field": "x", "type": "quantitative"}, "y": {"field": "y", "type": "quantitative", "stack": null}, "detail": [{"field": "s"}, {"field": "c"}]}},
        {"data": {"name": "series"}, "transform": [{"filter": "datum.p === 'd' && datum.c === 'mean'"}], "mark": {"type": "line", "color": "#1a1a1a", "strokeWidth": 1.3, "strokeDash": [11, 5], "clip": true}, "encoding": {"x": {"field": "x", "type": "quantitative"}, "y": {"field": "y", "type": "quantitative", "stack": null}, "detail": {"field": "s"}}},
        {"data": {"name": "tags"}, "transform": [{"filter": "datum.p === 'd'"}], "mark": {"type": "text", "align": "left", "baseline": "middle", "fontSize": 30, "font": "Liberation Sans", "color": "#222"}, "encoding": {"x": {"field": "x", "type": "quantitative"}, "y": {"field": "y", "type": "quantitative"}, "text": {"field": "t"}}}
      ]
    }
  ]
}
